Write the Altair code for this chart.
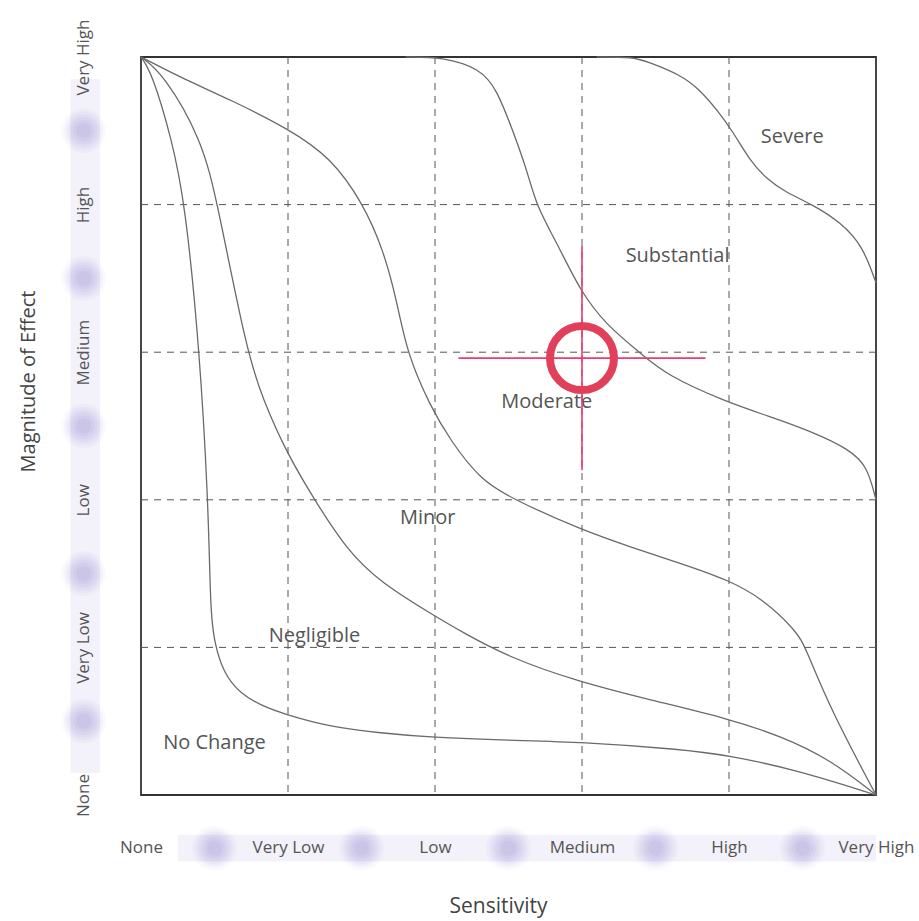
import json
import altair as alt
import pandas as pd

# ---------------- data ----------------
levels = ["None", "Very Low", "Low", "Medium", "High", "Very High"]
tick_values = [0, 1, 2, 3, 4, 5]
grid_values = [1, 2, 3, 4]

# boundary curves (Sensitivity, Magnitude)
c1_x = [0, 0.075, 0.21, 0.30, 0.40, 0.456, 0.47, 0.48, 0.50, 0.56, 0.67, 0.83, 0.97, 1.29, 1.63, 1.97, 2.51, 2.99, 3.67, 3.99, 4.46, 5.0]
c1_y = [5, 4.89, 4.44, 4.01, 3.0, 2.0, 1.4, 1.2, 1.03, 0.83, 0.69, 0.60, 0.55, 0.46, 0.42, 0.39, 0.37, 0.36, 0.31, 0.27, 0.17, 0]

c2_x = [0, 0.15, 0.415, 0.52, 0.72, 0.83, 0.99, 1.18, 1.40, 1.63, 1.97, 2.19, 2.51, 2.97, 3.44, 3.99, 4.35, 4.69, 5.0]
c2_y = [5, 4.89, 4.44, 4.01, 3.0, 2.68, 2.32, 2.0, 1.66, 1.44, 1.23, 1.10, 0.93, 0.77, 0.65, 0.52, 0.40, 0.24, 0]

c3_x = [0, 0.27, 0.61, 1.01, 1.29, 1.51, 1.65, 1.74, 1.81, 1.97, 2.10, 2.31, 2.56, 2.99, 3.33, 3.67, 3.99, 4.23, 4.46, 4.52, 4.69, 5.0]
c3_y = [5, 4.86, 4.71, 4.51, 4.32, 4.01, 3.69, 3.35, 2.99, 2.63, 2.41, 2.13, 1.99, 1.80, 1.68, 1.57, 1.46, 1.33, 1.11, 1.0, 0.58, 0]

c4_x = [1.8, 2.05, 2.31, 2.42, 2.53, 2.63, 2.69, 2.83, 2.99, 3.17, 3.39, 3.58, 3.99, 4.26, 4.57, 4.82, 4.94, 5.0]
c4_y = [5, 5.0, 4.92, 4.78, 4.50, 4.22, 3.99, 3.74, 3.41, 3.18, 3.0, 2.84, 2.66, 2.57, 2.46, 2.34, 2.23, 2.0]

c5_x = [3.1, 3.35, 3.44, 3.67, 3.80, 3.92, 4.03, 4.14, 4.26, 4.39, 4.57, 4.76, 4.91, 5.0]
c5_y = [5, 5.0, 4.97, 4.88, 4.78, 4.64, 4.49, 4.30, 4.17, 4.08, 4.0, 3.88, 3.72, 3.47]

region_names = ["Severe", "Substantial", "Moderate", "Minor", "Negligible", "No Change"]
region_x = [4.43, 3.65, 2.76, 1.95, 1.18, 0.50]
region_y = [4.46, 3.65, 2.66, 1.88, 1.08, 0.35]

target_x = [3.0]
target_y = [2.96]
cross_h_x = [2.16, 3.84]
cross_v_y = [2.20, 3.72]

blob_mid = [0.5, 1.5, 2.5, 3.5, 4.5]
blob_x_row_y = -0.36
blob_y_col_x = -0.39

# ---------------- tables ----------------
rows = []
for name, xs_, ys_ in [("c1", c1_x, c1_y), ("c2", c2_x, c2_y), ("c3", c3_x, c3_y),
                       ("c4", c4_x, c4_y), ("c5", c5_x, c5_y)]:
    for i, (a, b) in enumerate(zip(xs_, ys_)):
        rows.append({"curve": name, "i": i, "x": a, "y": b})
curve_df = pd.DataFrame(rows)

regions_df = pd.DataFrame({"x": region_x, "y": region_y, "label": region_names})
grid_df = pd.DataFrame({"x": grid_values, "y": grid_values})
target_df = pd.DataFrame({"x": target_x, "y": target_y})
cross_h_df = pd.DataFrame({"x": [cross_h_x[0]], "x2": [cross_h_x[1]], "y": target_y})
cross_v_df = pd.DataFrame({"x": target_x, "y": [cross_v_y[0]], "y2": [cross_v_y[1]]})
blob_x_df = pd.DataFrame({"x": blob_mid, "y": [blob_x_row_y] * 5})
blob_y_df = pd.DataFrame({"x": [blob_y_col_x] * 5, "y": blob_mid})
strip_x_df = pd.DataFrame({"x": [0.25], "x2": [5.0], "y": [-0.27], "y2": [-0.45]})
strip_y_df = pd.DataFrame({"x": [-0.48], "x2": [-0.28], "y": [0.15], "y2": [4.85]})

FONT = "Open Sans"
label_expr = json.dumps(levels) + "[datum.value]"

xs = alt.Scale(domain=[0, 5], nice=False, zero=False)
ys = alt.Scale(domain=[0, 5], nice=False, zero=False)

x_axis = alt.Axis(values=tick_values, labelExpr=label_expr, ticks=False, domain=False, grid=False,
                  labelFlush=False, labelOverlap=False, labelFont=FONT, labelFontSize=17,
                  labelColor="#555555", labelPadding=52, labelBaseline="middle",
                  title="Sensitivity", titleFont=FONT, titleFontSize=21, titleFontWeight="normal",
                  titleColor="#444444", titleX=357, titleY=111, titleBaseline="middle",
                  titleAlign="center", zindex=1)
y_axis = alt.Axis(values=tick_values, labelExpr=label_expr, ticks=False, domain=False, grid=False,
                  labelFlush=False, labelOverlap=False, labelFont=FONT, labelFontSize=17,
                  labelColor="#555555", labelPadding=58, labelAngle=-90, labelAlign="center",
                  labelBaseline="middle",
                  title="Magnitude of Effect", titleFont=FONT, titleFontSize=20,
                  titleFontWeight="normal", titleColor="#444444", titleAngle=270,
                  titleX=-113, titleY=324, titleBaseline="middle", titleAlign="center", zindex=1)


def X(f="x"):
    return alt.X(f + ":Q", scale=xs, axis=x_axis)


def Y(f="y"):
    return alt.Y(f + ":Q", scale=ys, axis=y_axis)


# decorative lavender strips and blurred blobs
strip_x = alt.Chart(strip_x_df).mark_rect(color="#f3f1fa").encode(x=X(), x2="x2", y=Y(), y2="y2")
strip_y = alt.Chart(strip_y_df).mark_rect(color="#f3f1fa").encode(x=X(), x2="x2", y=Y(), y2="y2")

blob_layers = []
for df in (blob_x_df, blob_y_df):
    for size, op in ((2000, 0.04), (1500, 0.05), (1100, 0.06), (750, 0.07),
                     (450, 0.08), (220, 0.08)):
        blob_layers.append(
            alt.Chart(df).mark_point(shape="circle", filled=True, size=size, opacity=op,
                                     color="#7a6ecb", strokeWidth=0).encode(x=X(), y=Y()))

# dashed grid
vgrid = alt.Chart(grid_df).mark_rule(color="#555555", strokeWidth=1, strokeDash=[7, 6]).encode(x=X())
hgrid = alt.Chart(grid_df).mark_rule(color="#555555", strokeWidth=1, strokeDash=[7, 6]).encode(y=Y())

curves = alt.Chart(curve_df).mark_line(color="#6a6a6a", strokeWidth=1.3, interpolate="basis").encode(
    x=X(), y=Y(), detail="curve:N", order="i:Q")

texts = alt.Chart(regions_df).mark_text(font=FONT, fontSize=20, color="#555555").encode(
    x=X(), y=Y(), text="label:N")

cross_h = alt.Chart(cross_h_df).mark_rule(color="#ee3a6c", strokeWidth=1.6).encode(x=X(), x2="x2", y=Y())
cross_v = alt.Chart(cross_v_df).mark_rule(color="#ee3a6c", strokeWidth=1.6).encode(x=X(), y=Y(), y2="y2")
ring = alt.Chart(target_df).mark_point(shape="circle", filled=False, size=4096, strokeWidth=8,
                                       color="#e0405a", opacity=1).encode(x=X(), y=Y())

chart = alt.layer(
    strip_x, strip_y, *blob_layers, vgrid, hgrid, curves, texts, cross_h, cross_v, ring
).properties(
    width=735, height=738,
    autosize=alt.AutoSizeParams(type="none"),
    padding={"left": 141, "top": 57, "right": 43, "bottom": 126},
).configure_view(stroke="#333333", strokeWidth=1.8)

chart.save("out.html", embed_options={"renderer": "svg", "actions": False})
